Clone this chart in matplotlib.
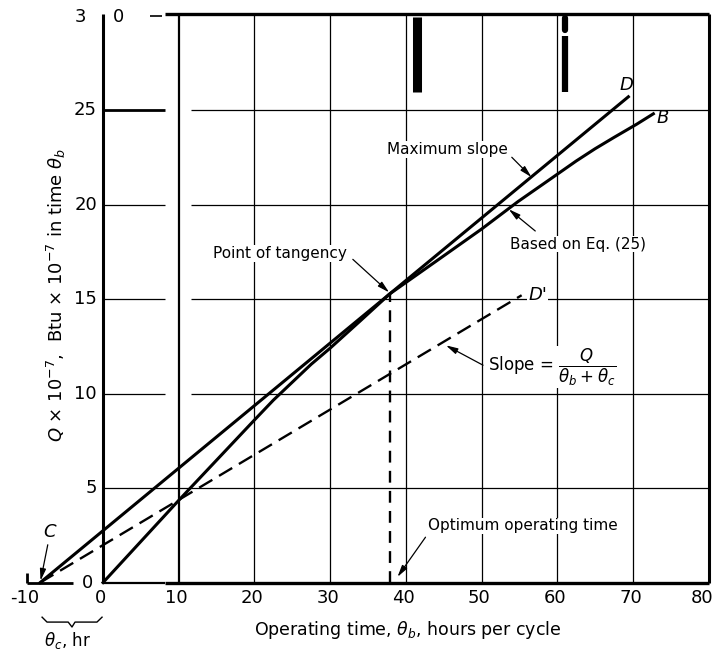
import numpy as np
import matplotlib.pyplot as plt

# -------------------------------
# DATA
# -------------------------------
x_ticks = [-10, 0, 10, 20, 30, 40, 50, 60, 70, 79.5]
x_tick_labels = ["-10", "0", "10", "20", "30", "40", "50", "60", "70", "80"]
y_ticks = [5, 10, 15, 20, 25]
y_tick_labels = ["5", "10", "15", "20", "25"]

# curve B  (based on Eq. 25)
b_x = [0, 10, 20, 22.5, 25, 27.5, 30, 34, 37.9, 44, 50, 54.8, 60, 62.5, 65, 67.5, 70.5, 72.7]
b_y = [0, 4.35, 8.6, 9.65, 10.6, 11.55, 12.4, 13.85, 15.28, 17.0, 18.7, 20.15, 21.6, 22.3,
       22.95, 23.55, 24.25, 24.8]

# maximum slope line C -> D
c_point = [-8.3, 0.0]
d_point = [69.4, 25.7]
# dashed line C -> D'
d_prime = [55.3, 15.2]
# point of tangency / optimum operating time
tangency = [37.9, 15.28]

x_grid = [20, 30, 40, 50, 60, 70]
y_grid = [5, 10, 15, 20, 25]

# -------------------------------
# FIGURE
# -------------------------------
fig = plt.figure(figsize=(7.13, 6.51), dpi=100)
ax = fig.add_axes([0, 0, 1, 1])
ax.set_xlim(-13.61, 80.58)
ax.set_ylim(-3.62, 30.82)
ax.axis("off")

top = 30.1
right = 80.0
k = dict(color="black", solid_capstyle="butt")

# grid
for gx in x_grid:
    ax.plot([gx, gx], [0, top], lw=0.9, zorder=1, **k)
for gy in y_grid:
    if gy == 5:
        ax.plot([0, right], [gy, gy], lw=0.9, zorder=1, **k)
    else:
        ax.plot([0, 8.2], [gy, gy], lw=2.0 if gy == 25 else 0.9, zorder=1, **k)
        ax.plot([11.6, right], [gy, gy], lw=0.9, zorder=1, **k)

# frame
ax.plot([0, 0], [0, top], lw=2.2, zorder=2, **k)
ax.plot([10, 10], [0, top], lw=1.6, zorder=2, **k)
ax.plot([8.2, right], [top, top], lw=2.4, zorder=2, **k)
ax.plot([right, right], [0, top], lw=2.2, zorder=2, **k)
ax.plot([0, 8.2], [0, 0], lw=1.6, zorder=2, **k)
ax.plot([8.2, right], [0, 0], lw=2.4, zorder=2, **k)
ax.plot([-10, -4], [0, 0], lw=2.0, zorder=2, **k)
ax.plot([-10, -10], [0, 0.5], lw=2.0, zorder=2, **k)
ax.plot([6.2, 7.8], [29.95, 29.95], lw=1.2, zorder=2, **k)

# scan marks at the top
ax.plot([41.5, 41.5], [25.95, 29.9], lw=6.5, zorder=2, **k)
ax.plot([61.0, 61.0], [25.95, 28.9], lw=4.5, zorder=2, **k)
ax.plot([61.0, 61.0], [29.25, 29.85], lw=4.5, zorder=2, color="black", solid_capstyle="round")

# curves
ax.plot(b_x, b_y, lw=2.2, zorder=4, color="black")
ax.plot([c_point[0], d_point[0]], [c_point[1], d_point[1]], lw=2.2, zorder=4, color="black")
ax.plot([c_point[0], d_prime[0]], [c_point[1], d_prime[1]], lw=1.7, ls=(0, (6.5, 3.3)),
        zorder=4, color="black")
ax.plot([tangency[0], tangency[0]], [0, tangency[1]], lw=1.7, ls=(0, (5, 3.5)),
        zorder=4, color="black")

# tick labels
fs = 13
for xv, lab in zip(x_ticks, x_tick_labels):
    ax.text(xv - 0.3, -0.82, lab, fontsize=fs, ha="center", va="center", zorder=5)
for yv, lab in zip(y_ticks, y_tick_labels):
    ax.text(-0.8, yv, lab, fontsize=fs, ha="right", va="center", zorder=5)
ax.text(-2.0, 0.0, "0", fontsize=fs, ha="center", va="center", zorder=5)
ax.text(-3.0, 29.9, "3", fontsize=fs, ha="center", va="center", zorder=5)
ax.text(2.0, 29.9, "0", fontsize=fs, ha="center", va="center", zorder=5)

# axis titles
ax.text(40.2, -2.5, r"Operating time, $\theta_b$, hours per cycle", fontsize=12.5,
        ha="center", va="center")
ax.text(-6.2, 15.2, r"$Q$ × 10$^{-7}$,  Btu × 10$^{-7}$ in time $\theta_b$", fontsize=13,
        rotation=90, ha="center", va="center")

# brace under -10 .. 0
brace_x = [-8.05, -7.4, -4.6, -4.1, -3.7, -0.8, -0.13]
brace_y = [-1.83, -2.09, -2.09, -2.35, -2.09, -2.09, -1.83]
ax.plot(brace_x, brace_y, lw=1.0, color="black")
ax.text(-4.75, -3.05, r"$\theta_c$, hr", fontsize=12, ha="center", va="center")

# point labels
ax.text(-7.0, 2.7, "C", fontsize=13, style="italic", ha="center", va="center")
ax.text(69.2, 26.3, "D", fontsize=13, style="italic", ha="center", va="center")
ax.text(74.0, 24.6, "B", fontsize=13, style="italic", ha="center", va="center")
ax.text(57.4, 15.2, "D'", fontsize=13, style="italic", ha="center", va="center",
        bbox=dict(fc="white", ec="none", pad=0.5), zorder=3)

# annotations
ap = dict(arrowstyle="-|>,head_length=0.7,head_width=0.18", lw=0.9, color="black",
          shrinkA=0, shrinkB=0)
box = dict(fc="white", ec="none", pad=0.5)
afs = 11

ax.annotate("", xy=(c_point[0] + 0.05, 0.1), xytext=(-7.3, 2.0), arrowprops=ap, zorder=5)

ax.text(23.4, 17.4, "Point of tangency", fontsize=afs, ha="center", va="center",
        bbox=box, zorder=3)
ax.annotate("", xy=(37.8, 15.35), xytext=(33.0, 17.1), arrowprops=ap, zorder=5)

ax.text(45.5, 22.9, "Maximum slope", fontsize=afs, ha="center", va="center",
        bbox=box, zorder=3)
ax.annotate("", xy=(56.6, 21.45), xytext=(54.0, 22.5), arrowprops=ap, zorder=5)

ax.text(62.7, 17.9, "Based on Eq. (25)", fontsize=afs, ha="center", va="center",
        bbox=box, zorder=3)
ax.annotate("", xy=(53.6, 19.75), xytext=(57.1, 18.6), arrowprops=ap, zorder=5)

ax.text(55.5, 3.0, "Optimum operating time", fontsize=afs, ha="center", va="center",
        bbox=box, zorder=3)
ax.annotate("", xy=(38.9, 0.3), xytext=(42.6, 2.4), arrowprops=ap, zorder=5)

ax.text(50.9, 11.4, r"Slope = $\dfrac{Q}{\theta_b + \theta_c}$", fontsize=12,
        ha="left", va="center", bbox=box, zorder=3)
ax.annotate("", xy=(45.3, 12.55), xytext=(50.2, 11.5), arrowprops=ap, zorder=5)

plt.savefig("out.png", dpi=100)
